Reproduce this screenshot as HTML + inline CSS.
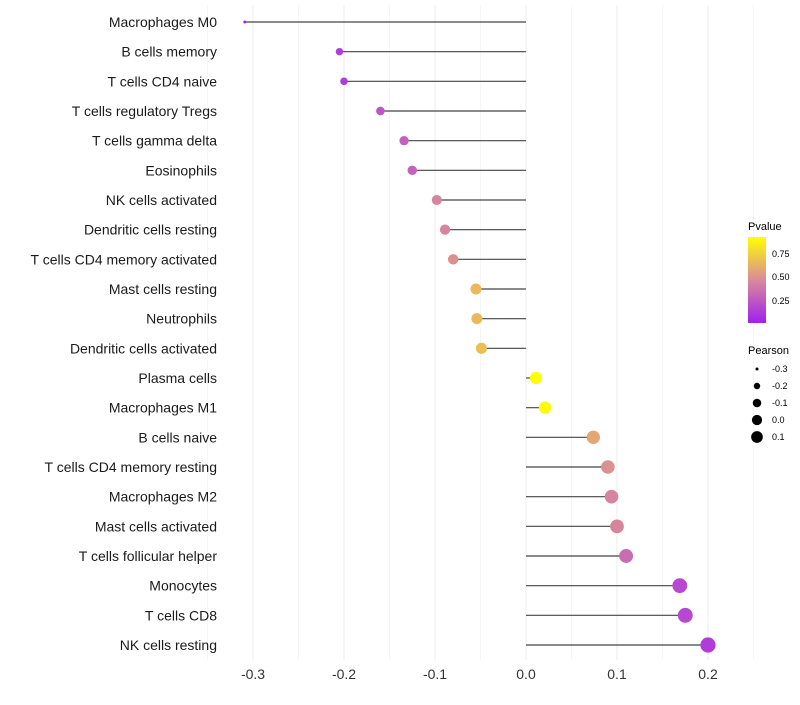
<!DOCTYPE html>
<html><head><meta charset="utf-8"><style>
body{margin:0;background:#fff;font-family:"Liberation Sans",sans-serif}
</style></head><body>
<svg id="chart" width="800" height="700" xmlns="http://www.w3.org/2000/svg" font-family="Liberation Sans, sans-serif">
<g id="grid"></g>
<g id="marks"></g>
<g id="ylab"></g>
<g id="xlab"></g>
<g id="legend">
<defs><linearGradient id="pg" x1="0" y1="1" x2="0" y2="0">
<stop offset="0" stop-color="#A020F0"/><stop offset="0.5" stop-color="#DA8A9A"/><stop offset="1" stop-color="#FFFF00"/></linearGradient></defs>
<text x="748" y="230" font-size="11">Pvalue</text>
<rect x="748" y="237" width="18" height="86" fill="url(#pg)"/>
<text x="772" y="257" font-size="9">0.75</text>
<text x="772" y="280" font-size="9">0.50</text>
<text x="772" y="304" font-size="9">0.25</text>
<text x="748" y="354" font-size="11">Pearson</text>
</g>
</svg>
<script>
const categories=["Macrophages M0","B cells memory","T cells CD4 naive","T cells regulatory  Tregs ","T cells gamma delta","Eosinophils","NK cells activated","Dendritic cells resting","T cells CD4 memory activated","Mast cells resting","Neutrophils","Dendritic cells activated","Plasma cells","Macrophages M1","B cells naive","T cells CD4 memory resting","Macrophages M2","Mast cells activated","T cells follicular helper","Monocytes","T cells CD8","NK cells resting"];
const pearson=[-0.309,-0.205,-0.200,-0.160,-0.134,-0.125,-0.098,-0.089,-0.080,-0.055,-0.054,-0.049,0.011,0.021,0.074,0.090,0.094,0.100,0.110,0.169,0.175,0.200];
const pvalue=[0.05,0.15,0.15,0.25,0.3,0.3,0.45,0.45,0.5,0.65,0.65,0.68,0.95,0.9,0.58,0.5,0.45,0.45,0.35,0.2,0.2,0.15];
const xTicks=[-0.3,-0.2,-0.1,0.0,0.1,0.2];
const sizeLegend=[-0.3,-0.2,-0.1,0.0,0.1];
const NS="http://www.w3.org/2000/svg";
const X=v=>526+v*910;
const Y=i=>22+i*(623/21);
const pmin=Math.min(...pearson),pmax=Math.max(...pearson);
const R=v=>Math.sqrt(2.25+56*Math.max(0,(v-pmin)/(pmax-pmin)));
function mix(a,b,t){return a.map((c,i)=>Math.round(c+(b[i]-c)*t));}
function col(p){const t=Math.min(1,Math.max(0,(p-0.03)/(0.917-0.03)));const s=[[160,32,240],[218,138,154],[255,255,0]];
const c=t<0.5?mix(s[0],s[1],t*2):mix(s[1],s[2],(t-0.5)*2);return `rgb(${c})`;}
function el(tag,attrs,parent){const e=document.createElementNS(NS,tag);for(const k in attrs)e.setAttribute(k,attrs[k]);parent.appendChild(e);return e;}
const grid=document.getElementById('grid'),marks=document.getElementById('marks'),ylab=document.getElementById('ylab'),xlab=document.getElementById('xlab'),leg=document.getElementById('legend');
for(let v=-0.35;v<=0.251;v+=0.05){const g=el('line',{x1:X(v),x2:X(v),y1:5,y2:660,stroke:Math.abs(Math.round(v*20))%2===0?'#ededed':'#f6f6f6','stroke-width':1},grid);

}
xTicks.forEach(v=>{const t=el('text',{x:X(v),y:679,'font-size':14,'text-anchor':'middle',fill:'#333'},xlab);t.textContent=v.toFixed(1);

});
categories.forEach((c,i)=>{const y=Y(i);
const l=el('line',{x1:X(0),x2:X(pearson[i]),y1:y,y2:y,stroke:'#444','stroke-width':1.2},marks);


const d=el('circle',{cx:X(pearson[i]),cy:y,r:R(pearson[i]),fill:col(pvalue[i])},marks);


const t=el('text',{x:217,y:y+5,'font-size':14,'text-anchor':'end',fill:'#1a1a1a'},ylab);t.textContent=c;

});
sizeLegend.forEach((v,i)=>{const y=369+i*17;
const d=el('circle',{cx:757,cy:y,r:R(v)*0.85,fill:'#000'},leg);


const t=el('text',{x:772,y:y+3,'font-size':9},leg);t.textContent=v.toFixed(1);

});
</script>
</body></html>
